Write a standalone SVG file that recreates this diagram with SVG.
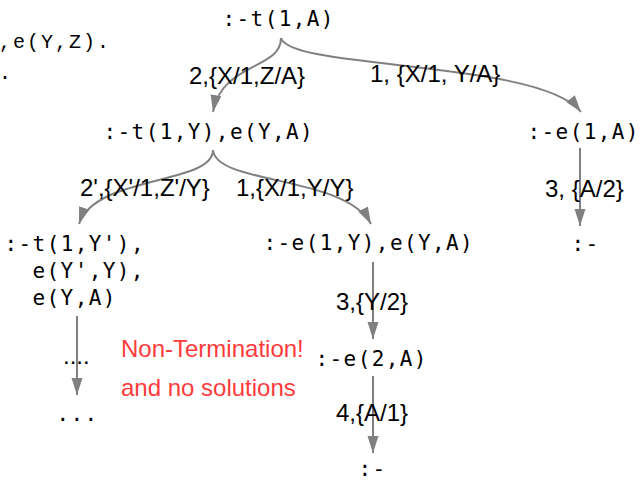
<svg xmlns="http://www.w3.org/2000/svg" width="641" height="481" viewBox="0 0 641 481">
<style>
.m{font-family:"DejaVu Sans Mono",monospace;font-size:21px;letter-spacing:1.4px;fill:#000}
.s{font-family:"Liberation Mono",monospace;font-size:20px;letter-spacing:2px;fill:#000}
.l{font-family:"Liberation Sans",Arial,sans-serif;font-size:24px;fill:#000}
.r{font-family:"Liberation Sans",Arial,sans-serif;font-size:24px;fill:#ff3b3b}
.c{fill:none;stroke:#808080;stroke-width:2;marker-end:url(#ah)}
</style>
<defs>
<marker id="ah" markerUnits="userSpaceOnUse" markerWidth="18" markerHeight="12" refX="17" refY="5.5" orient="auto">
<path d="M0,0 L17,5.5 L0,11 z" fill="#808080"/>
</marker>
</defs>
<rect width="641" height="481" fill="#fff"/>
<g id="program">
<text class="s" x="-1" y="48">,e(Y,Z).</text>
<text class="s" x="-1" y="79">.</text>
</g>
<g id="connectors">
<path class="c" d="M281,38 C281,70 222,62 213,112"/>
<path class="c" d="M281,38 C290,70 540,60 581,112"/>
<path class="c" d="M213,150 C213,185 95,175 79,224"/>
<path class="c" d="M213,150 C216,185 345,175 371,224"/>
<path class="c" d="M580,148 L580,226"/>
<path class="c" d="M373,262 L373,339"/>
<path class="c" d="M373,376 L373,453"/>
<path class="c" d="M77,316 L77,395"/>
</g>
<g id="n_root"><text class="m" x="222.5" y="26">:-t(1,A)</text></g>
<g id="n_left1"><text class="m" x="103.5" y="139">:-t(1,Y),e(Y,A)</text></g>
<g id="n_right1"><text class="m" x="527.5" y="139">:-e(1,A)</text></g>
<g id="n_right2"><text class="m" x="571.5" y="251">:-</text></g>
<g id="n_ll"><text class="m" x="4.5" y="251">:-t(1,Y'),</text><text class="m" x="32.5" y="278">e(Y',Y),</text><text class="m" x="32.5" y="305">e(Y,A)</text></g>
<g id="n_lr"><text class="m" x="263.5" y="250">:-e(1,Y),e(Y,A)</text></g>
<g id="n_e2"><text class="m" x="315.5" y="366">:-e(2,A)</text></g>
<g id="n_end"><text class="m" x="358.5" y="476">:-</text></g>
<g id="n_dots"><text class="m" x="56.5" y="421">...</text></g>
<g id="labels">
<text class="l" x="189" y="84">2,{X/1,Z/A}</text>
<text class="l" x="370" y="82">1, {X/1, Y/A}</text>
<text class="l" x="80" y="196">2',{X'/1,Z'/Y}</text>
<text class="l" x="236" y="196">1,{X/1,Y/Y}</text>
<text class="l" x="545" y="197">3, {A/2}</text>
<text class="l" x="336" y="310">3,{Y/2}</text>
<text class="l" x="336" y="421">4,{A/1}</text>
<text class="l" x="63" y="364">....</text>
<text class="r" x="121" y="357">Non-Termination!</text>
<text class="r" x="121" y="396">and no solutions</text>
</g>
</svg>
